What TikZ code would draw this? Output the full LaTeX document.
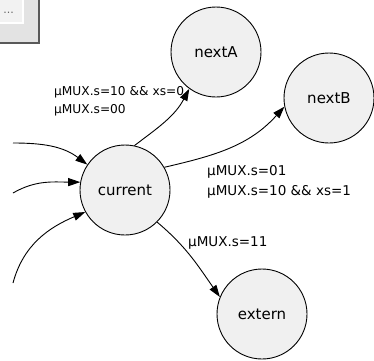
\documentclass[tikz,border=0pt]{standalone}
\usepackage{fontspec}
\setmainfont{DejaVu Sans}
\usetikzlibrary{arrows.meta, positioning}

\begin{document}
\begin{tikzpicture}[
    x=1pt, y=1pt,
    state/.style={circle, draw=black, line width=0.9pt, fill=black!6, minimum size=90pt, inner sep=0pt, font=\fontsize{15}{18}\selectfont},
    trans/.style={-{Triangle[length=12pt, width=8pt]}, line width=0.9pt},
    cond/.style={anchor=west, align=left, inner sep=0pt, font=\fontsize{13.5}{18}\selectfont}
  ]
    \useasboundingbox (0,0) rectangle (374,360);

    % navigation box in the corner
    \fill[black!11] (0,317) rectangle (39,360);
    \draw[black!65, line width=2pt] (39,360) -- (39,317) -- (0,317);
    \fill[black!5] (0,337) rectangle (23,360);
    \draw[white, line width=1.5pt] (23,360) -- (23,337) -- (0,337);
    \node[inner sep=0pt, text=black!60, font=\fontsize{11}{12}\selectfont] (dots) at (8.5,347) {...};

    % states
    \node[state] (current) at (125,170) {current};
    \node[state] (nextA)   at (216,308) {nextA};
    \node[state] (nextB)   at (329,262) {nextB};
    \node[state] (extern)  at (262,46)  {extern};

    % loose ends of the incoming transitions
    \coordinate (inA) at (13,217);
    \coordinate (inB) at (13,167);
    \coordinate (inC) at (13,77);

    % transitions
    \draw[trans] (current.78)  to[out=37, in=242]  (nextA.234);
    \draw[trans] (current.30)  to[out=13, in=228]  (nextB.191);
    \draw[trans] (current.-45) to[out=-40, in=125] (extern.158);
    \draw[trans] (inA) to[out=0, in=143]  (current.146);
    \draw[trans] (inB) to[out=30, in=180] (current.170);
    \draw[trans] (inC) to[out=75, in=203] (current.209);

    % conditions
    \node[cond, font=\fontsize{12.2}{18}\selectfont] (condA) at (54,259) {µMUX.s=10 \&\& xs=0\\µMUX.s=00};
    \node[cond] (condB) at (207,178) {µMUX.s=01\\[2pt]µMUX.s=10 \&\& xs=1};
    \node[cond] (condX) at (188,117) {µMUX.s=11};

  \end{tikzpicture}
\end{document}
